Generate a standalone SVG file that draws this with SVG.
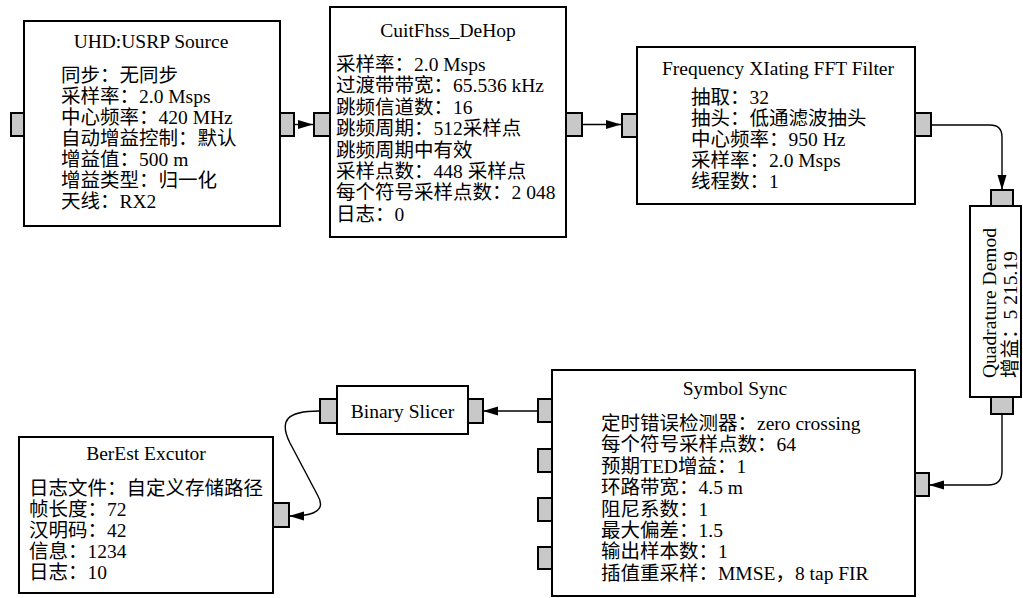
<svg xmlns="http://www.w3.org/2000/svg" width="1023" height="598" viewBox="0 0 1023 598">
<defs>
<style>
.box{fill:#fff;stroke:#000;stroke-width:2}
.port{fill:#c8c8c8;stroke:#000;stroke-width:2}
.t{font-family:"Liberation Serif","Noto Sans CJK SC",serif;font-size:19.5px;fill:#000}
.c{text-anchor:middle}
.edge{fill:none;stroke:#000;stroke-width:1.4}
</style>
<marker id="ah" markerUnits="userSpaceOnUse" markerWidth="16" markerHeight="10" refX="15" refY="5" orient="auto">
<path d="M0,0.5 L15,5 L0,9.5 z" fill="#000"/>
</marker>
</defs>
<rect width="1023" height="598" fill="#fff"/>

<g id="connectors">
<path class="edge" d="M294,124.5 L313,124.5" marker-end="url(#ah)"/>
<path class="edge" d="M582,124.5 L621,124.5" marker-end="url(#ah)"/>
<path class="edge" d="M931,125 L990,125 Q1002,125 1002,137 L1002,190" marker-end="url(#ah)"/>
<path class="edge" d="M1002,414 L1002,471 Q1002,485 988,485 L929,485" marker-end="url(#ah)"/>
<path class="edge" d="M537,411 L483,411" marker-end="url(#ah)"/>
<path class="edge" d="M319,411 C286,411 279,421 290,443 L318,496 C328,514 306,516 289,516" marker-end="url(#ah)"/>
</g>

<g id="uhd">
<rect class="port" x="11" y="113" width="13" height="23"/>
<rect class="port" x="280" y="113" width="14" height="23"/>
<rect class="box" x="24" y="21" width="256" height="205"/>
<text class="t c" x="151" y="48">UHD:USRP Source</text>
<text class="t">
<tspan x="61" y="81.5">同步：无同步</tspan>
<tspan x="61" y="102.5">采样率：2.0 Msps</tspan>
<tspan x="61" y="123.5">中心频率：420 MHz</tspan>
<tspan x="61" y="144.5">自动增益控制：默认</tspan>
<tspan x="61" y="165.5">增益值：500 m</tspan>
<tspan x="61" y="186.5">增益类型：归一化</tspan>
<tspan x="61" y="207.5">天线：RX2</tspan>
</text>
</g>

<g id="dehop">
<rect class="port" x="314" y="113" width="16" height="23"/>
<rect class="port" x="566" y="113" width="16" height="23"/>
<rect class="box" x="330" y="7" width="236" height="230"/>
<text class="t c" x="448" y="37">CuitFhss_DeHop</text>
<text class="t">
<tspan x="336" y="71">采样率：2.0 Msps</tspan>
<tspan x="336" y="92.4">过渡带带宽：65.536 kHz</tspan>
<tspan x="336" y="113.8">跳频信道数：16</tspan>
<tspan x="336" y="135.2">跳频周期：512采样点</tspan>
<tspan x="336" y="156.6">跳频周期中有效</tspan>
<tspan x="336" y="178">采样点数：448 采样点</tspan>
<tspan x="336" y="199.4">每个符号采样点数：2 048</tspan>
<tspan x="336" y="220.8">日志：0</tspan>
</text>
</g>

<g id="fft">
<rect class="port" x="622" y="114" width="15" height="23"/>
<rect class="port" x="915" y="113" width="16" height="23"/>
<rect class="box" x="637" y="47" width="278" height="157"/>
<text class="t c" x="778" y="75">Frequency XIating FFT Filter</text>
<text class="t">
<tspan x="691" y="104">抽取：32</tspan>
<tspan x="691" y="125">抽头：低通滤波抽头</tspan>
<tspan x="691" y="146">中心频率：950 Hz</tspan>
<tspan x="691" y="167">采样率：2.0 Msps</tspan>
<tspan x="691" y="188">线程数：1</tspan>
</text>
</g>

<g id="quad">
<rect class="port" x="991" y="190" width="22" height="16"/>
<rect class="port" x="991" y="397" width="22" height="17"/>
<rect class="box" x="970" y="206" width="51" height="191"/>
<text class="t" transform="translate(996,378) rotate(-90)">Quadrature Demod</text>
<text class="t" transform="translate(1017,378) rotate(-90)">增益：5 215.19</text>
</g>

<g id="symsync">
<rect class="port" x="538" y="399" width="14" height="23"/>
<rect class="port" x="538" y="449" width="14" height="23"/>
<rect class="port" x="538" y="498" width="14" height="23"/>
<rect class="port" x="538" y="547" width="14" height="22"/>
<rect class="port" x="915" y="473" width="14" height="23"/>
<rect class="box" x="552" y="370" width="363" height="226"/>
<text class="t c" x="735" y="395">Symbol Sync</text>
<text class="t">
<tspan x="601" y="430">定时错误检测器：zero crossing</tspan>
<tspan x="601" y="451.4">每个符号采样点数：64</tspan>
<tspan x="601" y="472.8">预期TED增益：1</tspan>
<tspan x="601" y="494.2">环路带宽：4.5 m</tspan>
<tspan x="601" y="515.6">阻尼系数：1</tspan>
<tspan x="601" y="537">最大偏差：1.5</tspan>
<tspan x="601" y="558.4">输出样本数：1</tspan>
<tspan x="601" y="579.8">插值重采样：MMSE，8 tap FIR</tspan>
</text>
</g>

<g id="slicer">
<rect class="port" x="320" y="399" width="17" height="24"/>
<rect class="port" x="468" y="399" width="15" height="24"/>
<rect class="box" x="337" y="386" width="131" height="48"/>
<text class="t c" x="402.5" y="418">Binary Slicer</text>
</g>

<g id="berest">
<rect class="port" x="273" y="503" width="16" height="24"/>
<rect class="box" x="19" y="437" width="254" height="156"/>
<text class="t c" x="146" y="460">BerEst Excutor</text>
<text class="t">
<tspan x="29" y="495">日志文件：自定义存储路径</tspan>
<tspan x="29" y="516">帧长度：72</tspan>
<tspan x="29" y="537">汉明码：42</tspan>
<tspan x="29" y="558">信息：1234</tspan>
<tspan x="29" y="579">日志：10</tspan>
</text>
</g>
</svg>
